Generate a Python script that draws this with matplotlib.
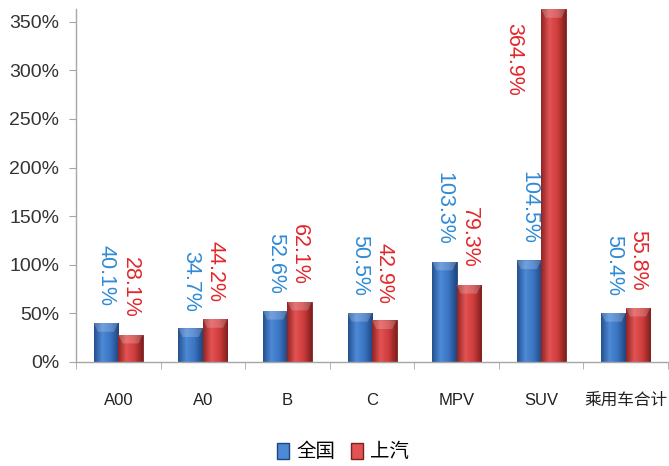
import matplotlib
matplotlib.use("Agg")
import matplotlib.pyplot as plt
import numpy as np
from matplotlib.colors import LinearSegmentedColormap
from matplotlib.patches import Patch, Polygon

plt.rcParams["font.family"] = ["Liberation Sans", "Noto Sans CJK SC"]

# 车型分类及增长率
categories = ["A00", "A0", "B", "C", "MPV", "SUV", "乘用车合计"]
national = [0.401, 0.347, 0.526, 0.505, 1.033, 1.045, 0.504]   # 全国
saic = [0.281, 0.442, 0.621, 0.429, 0.793, 3.649, 0.558]       # 上汽
series_names = ["全国", "上汽"]

bar_colors = {
    "全国": ("#24508f", "#4d8ad6", "#3a74c2", "#1f4680"),
    "上汽": ("#8f2424", "#e25353", "#cf3d3d", "#7f1f1f"),
}
label_colors = {"全国": "#2f8ad6", "上汽": "#e2282c"}

ymax = 3.63
width = 0.29

fig = plt.figure(figsize=(6.69, 4.66), dpi=100)
ax = fig.add_axes([0.1136, 0.2232, 0.885, 0.7575])
x = np.arange(len(categories))


def gradient_bar(ax, xc, h, stops):
    cmap = LinearSegmentedColormap.from_list("g", [stops[0], stops[1], stops[2], stops[3]])
    top = min(h, ymax)
    bar = ax.bar(xc, top, width, color=stops[2], edgecolor=stops[3], linewidth=0.6, zorder=2)[0]
    grad = np.linspace(0, 1, 64).reshape(1, -1)
    im = ax.imshow(grad, cmap=cmap, aspect="auto", zorder=2.5,
                   extent=(xc - width / 2, xc + width / 2, 0, top))
    im.set_clip_path(bar)
    # 顶部斜面高光
    bev = 0.09
    ax.add_patch(Polygon([(xc - width / 2, top), (xc + width / 2, top),
                          (xc + width / 2 - 0.05, top - bev), (xc - width / 2 + 0.05, top - bev)],
                         closed=True, facecolor="white", alpha=0.2, edgecolor="none", zorder=3))


for name, vals, off in [("全国", national, -width / 2), ("上汽", saic, width / 2)]:
    for i, v in enumerate(vals):
        gradient_bar(ax, x[i] + off, v, bar_colors[name])
        txt = f"{v * 100:.1f}%"
        if v > ymax:
            # 超出坐标范围的数值放在柱子左侧
            ax.text(x[i] - 0.33, ymax - 0.14, txt, rotation=-90, ha="center", va="top",
                    fontsize=15.5, color=label_colors[name])
        else:
            ax.annotate(txt, (x[i] + off, v), xytext=(0, 12), textcoords="offset points",
                        rotation=-90, ha="center", va="bottom", fontsize=15.5,
                        color=label_colors[name])

ax.set_xlim(-0.5, len(categories) - 0.5)
ax.set_ylim(0, ymax)
ax.set_yticks(np.arange(0, 3.51, 0.5))
ax.set_yticklabels([f"{int(round(t * 100))}%" for t in np.arange(0, 3.51, 0.5)])
ax.set_xticks(x)
ax.set_xticklabels(categories)
ax.set_xticks(np.arange(-0.5, len(categories)), minor=True)

for s in ["top", "right"]:
    ax.spines[s].set_visible(False)
for s in ["left", "bottom"]:
    ax.spines[s].set_color("#a6a6a6")
    ax.spines[s].set_linewidth(1.0)

ax.tick_params(axis="y", length=5, color="#a6a6a6", labelsize=14, labelcolor="#333333", pad=7)
ax.tick_params(axis="x", which="major", length=0, labelsize=12, labelcolor="#222222", pad=22)
ax.tick_params(axis="x", which="minor", length=5, color="#a6a6a6")

handles = [Patch(facecolor=bar_colors[n][1], edgecolor=bar_colors[n][3], label=n) for n in series_names]
fig.legend(handles=handles, loc="center", bbox_to_anchor=(0.513, 0.03), ncol=2, frameon=False,
           fontsize=14, handlelength=0.6, handleheight=0.9, handletextpad=0.4, columnspacing=0.8)

fig.savefig("out.png", dpi=100)
